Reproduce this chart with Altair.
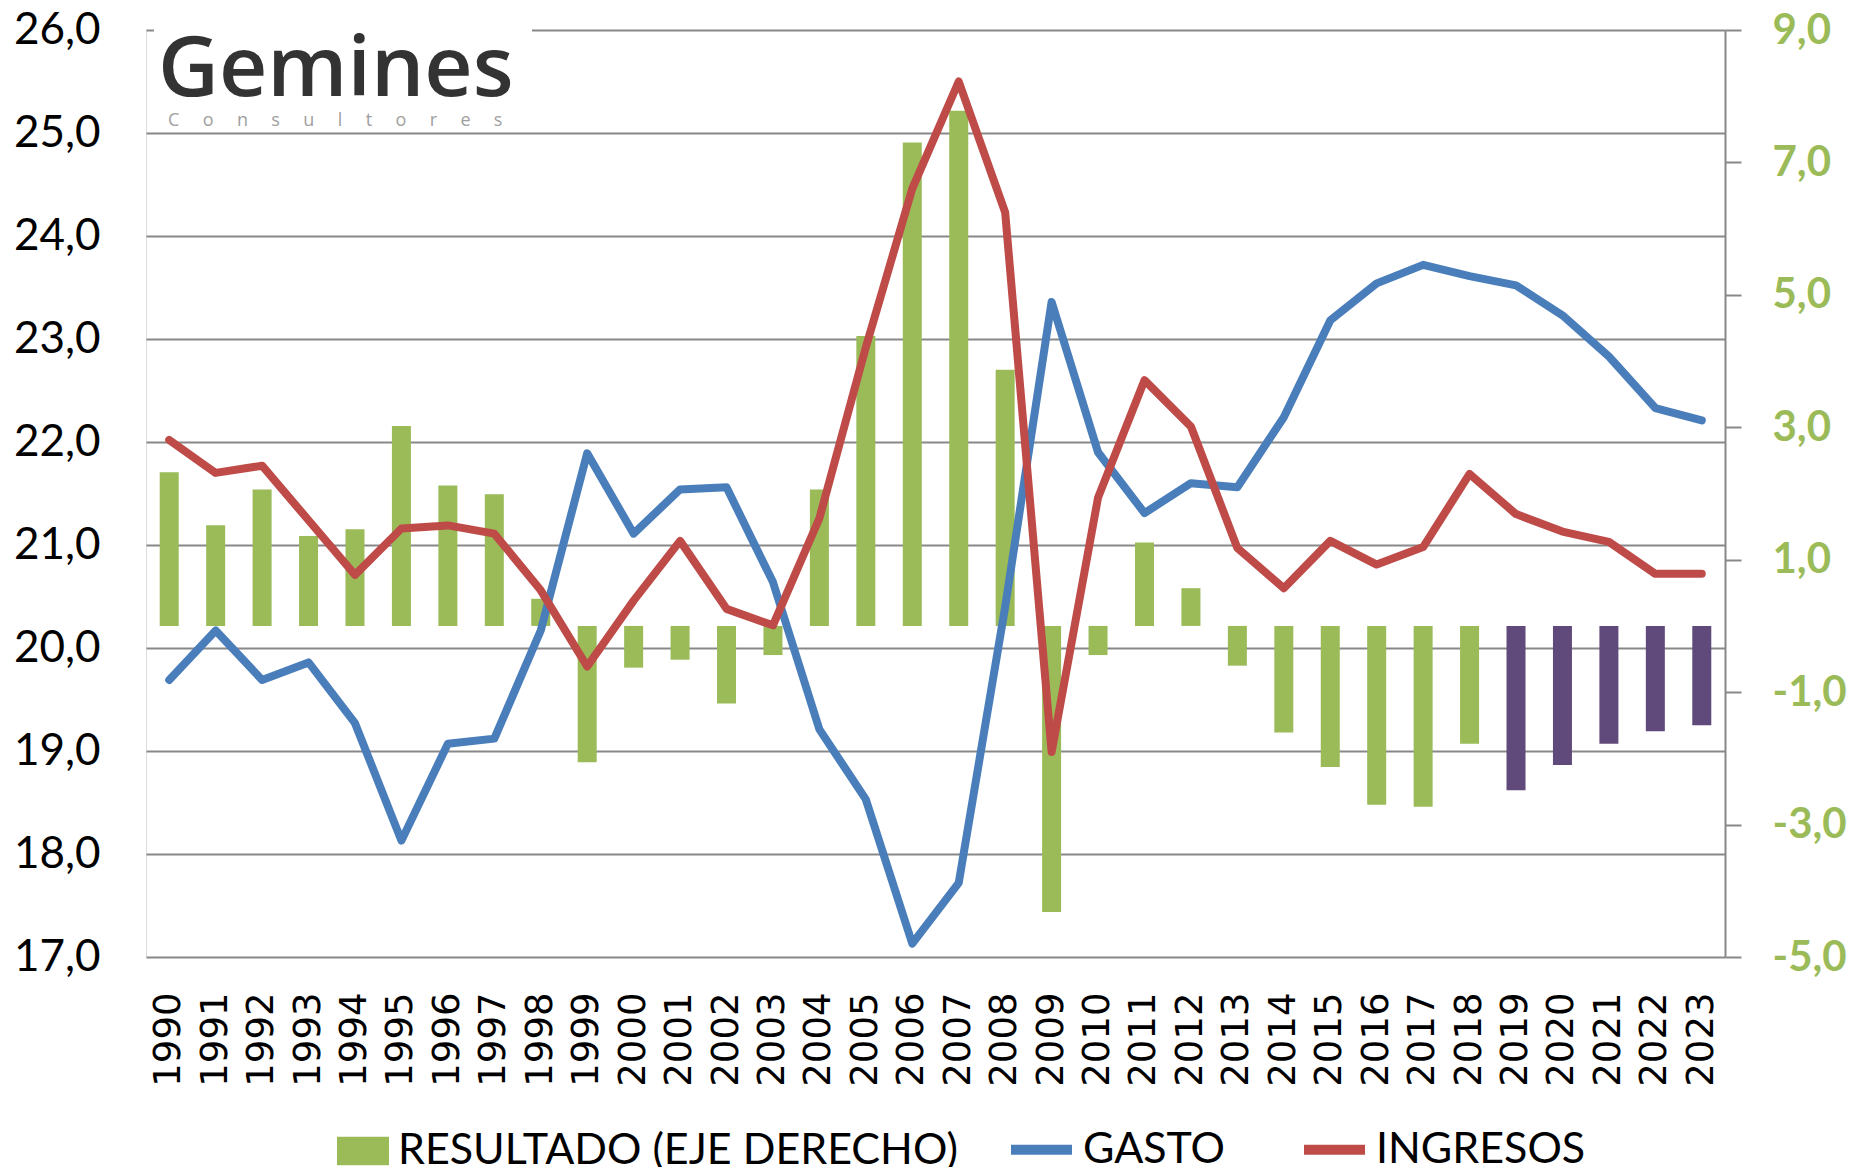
import altair as alt
import pandas as pd

years = [str(y) for y in range(1990, 2024)]

gasto = [19.69, 20.17, 19.69, 19.86, 19.27, 18.13, 19.07, 19.12, 20.17, 21.89,
         21.11, 21.54, 21.56, 20.64, 19.21, 18.53, 17.13, 17.72, 20.40, 23.36,
         21.90, 21.31, 21.60, 21.56, 22.24, 23.18, 23.54, 23.72, 23.61, 23.52,
         23.23, 22.83, 22.33, 22.21]

ingresos = [22.02, 21.70, 21.77, 21.24, 20.71, 21.16, 21.19, 21.11, 20.56, 19.82,
            20.46, 21.04, 20.38, 20.22, 21.26, 22.92, 24.46, 25.50, 24.23, 18.99,
            21.46, 22.60, 22.15, 20.97, 20.58, 21.04, 20.81, 20.98, 21.69, 21.30,
            21.13, 21.03, 20.72, 20.72]

resultado = [2.32, 1.52, 2.06, 1.36, 1.46, 3.02, 2.12, 1.99, 0.41, -2.06,
             -0.63, -0.51, -1.17, -0.44, 2.06, 4.38, 7.30, 7.78, 3.87, -4.32,
             -0.44, 1.26, 0.57, -0.60, -1.61, -2.13, -2.70, -2.73, -1.78, -2.48,
             -2.10, -1.78, -1.59, -1.50]

tipo = ["RESULTADO (EJE DERECHO)"] * 29 + ["PREVISIÓN"] * 5

GREEN = "#9BBB59"
PURPLE = "#604A7B"
BLUE = "#4A7EBB"
RED = "#BE4B48"
GRID = "#888888"

df_bar = pd.DataFrame({"year": years, "resultado": resultado, "tipo": tipo})
df_line = pd.DataFrame({
    "year": years * 2,
    "valor": gasto + ingresos,
    "serie": ["GASTO"] * len(years) + ["INGRESOS"] * len(years),
})

fmt = "(datum.value < 0 ? '-' : '') + replace(format(abs(datum.value), '.1f'), '.', ',')"

x_axis = alt.Axis(labelAngle=-90, domain=False, ticks=False, labelPadding=35,
                  labelFont="DejaVu Sans", labelFontSize=37, labelColor="black",
                  title=None)
x_enc = alt.X("year:N", sort=years, title=None,
              scale=alt.Scale(paddingInner=0, paddingOuter=0), axis=x_axis)

bars = alt.Chart(df_bar).mark_bar(size=19).encode(
    x=x_enc,
    y=alt.Y("resultado:Q", title=None,
            scale=alt.Scale(domain=[-5, 9], nice=False, zero=True),
            axis=alt.Axis(orient="right", values=[-5, -3, -1, 1, 3, 5, 7, 9],
                          labelExpr=fmt, grid=False, domain=True,
                          domainColor=GRID, domainWidth=2, tickColor=GRID,
                          tickWidth=2, tickSize=16, labelPadding=31,
                          labelFont="Lato", labelFontSize=42,
                          labelFontWeight="bold", labelColor=GREEN,
                          labelAlign="left", labelBaseline="middle")),
    color=alt.Color("tipo:N",
                    scale=alt.Scale(domain=["RESULTADO (EJE DERECHO)", "PREVISIÓN"],
                                    range=[GREEN, PURPLE]),
                    legend=alt.Legend(values=["RESULTADO (EJE DERECHO)"], title=None,
                                      orient="none", legendX=191, legendY=1095,
                                      symbolType="M-1,-0.55L1,-0.55L1,0.55L-1,0.55Z",
                                      symbolSize=2704, symbolStrokeWidth=0,
                                      labelFont="Lato", labelFontSize=43,
                                      labelColor="black", labelOffset=9,
                                      labelLimit=0)),
)

lines = alt.Chart(df_line).mark_line(strokeWidth=8, strokeCap="round",
                                     strokeJoin="round").encode(
    x=x_enc,
    y=alt.Y("valor:Q", title=None,
            scale=alt.Scale(domain=[17, 26], nice=False, zero=False),
            axis=alt.Axis(orient="left", values=list(range(17, 27)),
                          labelExpr=fmt, grid=True, gridColor=GRID, gridWidth=2,
                          domain=False, ticks=False, labelPadding=46,
                          labelFont="Lato", labelFontSize=44, labelColor="black")),
    color=alt.Color("serie:N",
                    scale=alt.Scale(domain=["GASTO", "INGRESOS"], range=[BLUE, RED]),
                    legend=alt.Legend(title=None, orient="none", legendX=860,
                                      legendY=1084, direction="horizontal",
                                      columns=2, columnPadding=58,
                                      symbolType="stroke", symbolSize=3721,
                                      symbolStrokeWidth=10, labelFont="Lato",
                                      labelFontSize=43, labelColor="black",
                                      labelOffset=6, labelLimit=0)),
    order=alt.Order("year:N"),
)

NB = "\u00a0" * 5
logo_box = alt.Chart(pd.DataFrame({"a": [1]})).mark_rect(color="white").encode(
    x=alt.value(8), x2=alt.value(386), y=alt.value(-30), y2=alt.value(97)
)
logo_text = alt.Chart(pd.DataFrame({"t": ["Gemines"]})).mark_text(
    font="Open Sans", fontSize=84, fontWeight=600, color="#333333",
    align="left", baseline="alphabetic"
).encode(x=alt.value(12), y=alt.value(66), text="t:N")
logo_sub = alt.Chart(pd.DataFrame({"t": [NB.join("Consultores")]})).mark_text(
    font="Open Sans", fontSize=18, color="#a0a0a0", align="left", baseline="alphabetic"
).encode(x=alt.value(22), y=alt.value(96), text="t:N")

chart = alt.layer(bars, lines, logo_box, logo_text, logo_sub).resolve_scale(
    y="independent", color="independent"
).resolve_legend(color="independent").properties(
    width=1579, height=927,
    autosize=alt.AutoSizeParams(type="none"),
    padding={"left": 138, "top": 22, "right": 122, "bottom": 210},
).configure_view(stroke=None).configure(background="white")

chart.save("out.html", embed_options={"renderer": "svg", "actions": False})
